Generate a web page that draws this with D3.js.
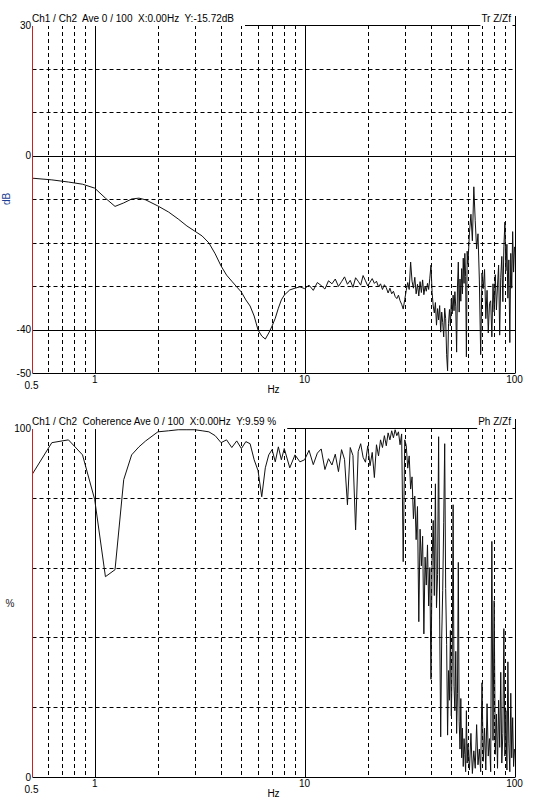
<!DOCTYPE html>
<html>
<head>
<meta charset="utf-8">
<script src="https://cdn.jsdelivr.net/npm/d3@7"></script>
<style>
  body { margin: 0; background: #fff; }
  svg { display: block; }
  text { font-family: "Liberation Sans", Arial, sans-serif; font-size: 10px; }
</style>
</head>
<body>
<div id="chart"></div>
<script>
// frequency bins (Hz), split into three bands
var freqLow = [0.5,0.625,0.75,0.875,1,1.125,1.25,1.375,1.5,1.625,1.75,2,2.25,2.5,2.75,3,3.25,3.5,3.75,4,
  4.25,4.5,4.75,5,5.25,5.5,5.75,6,6.25,6.5,6.75,7,7.25,7.5,7.75,8,8.5,9,9.5];
var freqMid = [10,10.5,11,11.5,12,12.5,13,13.5,14,14.5,15,15.5,16,16.5,17,17.5,18,18.5,19,19.5,20,
  20.5,21,21.5,22,22.5,23,23.5,24,24.5,25,25.5,26,26.5,27,27.5,28,28.5,29,29.5,30];
var freqHigh = [30.5,31,31.5,32,32.5,33,33.5,34,34.5,35,35.5,36,36.5,37,37.5,38,38.5,39,39.5,40,
  40.5,41,41.5,42,42.5,43,43.5,44,44.5,45,45.5,46,46.5,47,47.5,48,48.5,49,49.5,50,
  50.5,51,51.5,52,52.5,53,53.5,54,54.5,55,55.5,56,56.5,57,57.5,58,58.5,59,59.5,60,
  61,62,63,64,65,66,67,68,69,70,71,72,73,74,75,76,77,78,79,80,
  81,82,83,84,85,86,87,88,89,90,91,92,93,94,95,96,97,98,99,100];

// transfer function Tr Z/Zf (dB)
var trLow = [-5.2,-5.6,-6.1,-6.6,-7.5,-9.8,-11.7,-10.9,-10.0,-9.8,-10.2,-11.6,-13.0,-14.6,-16.2,-17.4,-18.5,-20.1,-22.6,-25.4,
  -27.5,-28.9,-30.2,-31.4,-33.2,-34.6,-36.9,-40.1,-41.5,-42.2,-40.8,-39.2,-37.4,-35.1,-33.2,-32.1,-30.9,-30.5,-30.2];
var trMid = [-30.6,-29.8,-31.0,-29.2,-29.9,-30.7,-28.8,-29.5,-28.4,-30.1,-29.0,-27.9,-29.6,-28.7,-30.3,-28.1,-28.9,-29.8,-27.6,-28.8,
  -30.0,-29.1,-28.3,-29.4,-28.9,-30.2,-29.5,-30.8,-29.7,-30.4,-31.6,-30.5,-31.8,-31.2,-32.4,-32.9,-32.1,-33.4,-34.2,-35.3,-33.1];
var trHigh = [-31.0,-29.2,-30.8,-24.5,-28.9,-30.5,-28.0,-31.8,-29.6,-32.3,-29.0,-31.5,-28.6,-32.0,-30.1,-31.2,-29.4,-30.8,-28.2,-25.2,
  -31.5,-34.6,-36.2,-33.8,-39.0,-35.2,-37.8,-34.5,-40.6,-36.0,-38.4,-41.7,-35.1,-37.5,-45.8,-49.5,-38.6,-35.4,-39.2,-33.0,
  -36.4,-32.1,-35.7,-31.3,-34.8,-45.2,-30.2,-24.5,-36.0,-28.4,-33.5,-26.0,-31.8,-23.6,-29.4,-22.5,-27.8,-46.3,-22.0,-25.0,
  -17.8,-13.5,-19.6,-7.2,-15.0,-21.5,-18.0,-28.4,-45.8,-27.0,-30.6,-26.2,-37.5,-31.0,-40.8,-34.0,-33.4,-41.7,-29.5,-36.0,
  -27.4,-35.5,-30.0,-25.2,-41.3,-28.0,-23.2,-33.6,-21.0,-15.3,-26.5,-20.4,-32.8,-24.0,-43.0,-22.5,-30.5,-17.5,-26.8,-21.0];

// coherence Ph Z/Zf (%)
var cohLow = [86.4,95.8,96.6,92.3,79.5,57.4,59.4,85.2,92.3,94.6,96.3,98.9,99.2,99.5,99.5,99.5,99.2,98.9,97.8,95.8,
  96.6,94.4,96.3,94.1,96.1,95.5,90.9,87.8,80.3,88.6,92.3,93.8,90.3,94.6,90.9,94.1,88.6,92.3,90.3];
var cohMid = [90.9,93.6,89.5,92.8,94.0,88.1,91.2,89.4,92.5,87.5,93.8,91.0,78.0,94.4,92.1,70.8,93.2,95.5,91.6,90.2,
  94.9,89.2,93.0,85.8,95.2,92.0,96.6,94.4,97.8,94.9,98.6,96.6,99.2,97.2,99.5,97.8,98.9,95.2,98.3,61.7,96.6];
var cohHigh = [95.0,88.5,92.0,82.5,86.0,74.0,80.5,68.0,77.5,44.5,71.0,60.5,69.0,41.0,63.0,55.0,66.5,49.0,60.0,28.0,
  62.0,73.5,52.0,84.0,48.5,58.0,97.5,45.0,11.5,40.0,53.5,73.0,95.5,54.0,38.0,12.0,30.5,22.0,42.0,17.5,
  33.0,78.0,26.0,19.0,36.0,12.5,24.0,61.5,16.0,8.0,22.5,5.5,14.0,3.0,11.0,6.5,1.5,19.0,4.0,9.5,
  2.0,12.5,1.0,7.5,2.5,15.0,3.5,8.0,1.5,27.0,4.5,14.0,2.0,21.0,6.0,11.0,1.5,67.5,10.5,50.5,
  6.5,18.0,2.5,22.0,8.5,30.0,4.0,12.5,42.5,6.0,19.0,2.0,33.0,9.5,1.5,24.0,5.5,17.0,3.0,8.0];

// grid / tick values
var hzMinor = [0.6,0.7,0.8,0.9,2,3,4,5,6,7,8,9,20,30,40,50,60,70,80,90];
var hzMajor = [1,10,100];
var hzLabels = ["0.5","1","10","100"];

var dbGridDashed = [20,10,-10,-20,-30];
var dbGridSolid = [0,-40];
var dbLabels = [30,0,-40,-50];
var pctGridDashed = [80,60,40,20];
var pctLabels = [100,0];

var W = 538, H = 802;
var svg = d3.select("#chart").append("svg").attr("width", W).attr("height", H);

var x = d3.scaleLog().domain([0.5, 100]).range([31.5, 514.5]);
var px = function (v) { return Math.round(x(v)) + 0.5; };

var allFreq = freqLow.concat(freqMid, freqHigh);

function drawPanel(p) {
  var y = d3.scaleLinear().domain(p.domain).range([p.bottom, p.top]);
  var py = function (v) { return Math.round(y(v)) + 0.5; };
  var left = px(0.5), right = px(100);
  var g = svg.append("g");

  // dashed verticals
  g.append("g").selectAll("line").data(hzMinor).enter().append("line")
    .attr("x1", px).attr("x2", px)
    .attr("y1", p.top).attr("y2", p.bottom)
    .attr("stroke", "#000").attr("stroke-width", 1)
    .attr("stroke-dasharray", "4,3");
  // dashed horizontals
  g.append("g").selectAll("line").data(p.dashed).enter().append("line")
    .attr("x1", left).attr("x2", right)
    .attr("y1", py).attr("y2", py)
    .attr("stroke", "#000").attr("stroke-width", 1)
    .attr("stroke-dasharray", "4,3");
  // solid verticals at decades
  g.append("g").selectAll("line").data(hzMajor).enter().append("line")
    .attr("x1", px).attr("x2", px)
    .attr("y1", function (d) { return d === 100 ? p.top - 9 : p.top; })
    .attr("y2", p.bottom)
    .attr("stroke", "#000").attr("stroke-width", 1);
  // solid horizontals (labelled values + frame)
  g.append("g").selectAll("line").data(p.solid.concat(p.domain)).enter().append("line")
    .attr("x1", left).attr("x2", right)
    .attr("y1", py).attr("y2", py)
    .attr("stroke", "#000").attr("stroke-width", 1);

  // trace
  var clipId = "clip" + p.name;
  svg.append("clipPath").attr("id", clipId).append("rect")
    .attr("x", left).attr("y", p.top - 1).attr("width", right - left).attr("height", p.bottom - p.top + 2);
  var line = d3.line()
    .x(function (d) { return x(d[0]); })
    .y(function (d) { return y(d[1]); });
  g.append("path")
    .datum(d3.zip(allFreq, p.values))
    .attr("d", line)
    .attr("fill", "none")
    .attr("stroke", "#111")
    .attr("stroke-width", 1)
    .attr("stroke-linejoin", "round")
    .attr("clip-path", "url(#" + clipId + ")");

  // header text with white background covering the frame
  var title = g.append("text")
    .attr("x", 32).attr("y", p.top - 3)
    .attr("xml:space", "preserve")
    .style("white-space", "pre")
    .text(p.title);
  var tw = title.node().getComputedTextLength();
  g.insert("rect", "text")
    .attr("x", left - 0.5).attr("y", p.top - 14)
    .attr("width", tw + 11).attr("height", 15)
    .attr("fill", "#fff");
  var tag = g.append("text")
    .attr("x", 511).attr("y", p.top - 3)
    .attr("text-anchor", "end")
    .text(p.tag);
  var gw = tag.node().getComputedTextLength();
  g.insert("rect", "text")
    .attr("x", 511 - gw - 1).attr("y", p.top - 14)
    .attr("width", gw + 2.5).attr("height", 15)
    .attr("fill", "#fff");

  // red left axis
  g.append("line")
    .attr("x1", left).attr("x2", left)
    .attr("y1", p.top + 1).attr("y2", p.bottom)
    .attr("stroke", "#cc1f1f").attr("stroke-width", 1);

  // y tick labels
  g.append("g").selectAll("text").data(p.labels).enter().append("text")
    .attr("x", 31).attr("y", function (d) { return y(d) + 3.5; })
    .attr("text-anchor", "end")
    .text(function (d) { return d; });

  // x tick labels
  g.append("g").selectAll("text").data(hzLabels).enter().append("text")
    .attr("x", function (d) { return x(+d); })
    .attr("y", function (d) { return d === "0.5" ? p.bottom + 15.5 : p.bottom + 9.5; })
    .attr("text-anchor", "middle")
    .text(function (d) { return d; });

  g.append("text")
    .attr("x", 273.5).attr("y", p.bottom + 19.5)
    .attr("text-anchor", "middle")
    .text("Hz");

  if (p.rotateLabel) {
    g.append("text")
      .attr("transform", "translate(10," + p.labelY + ") rotate(-90)")
      .attr("text-anchor", "middle")
      .attr("fill", "#1c3f94")
      .text(p.yLabel);
  } else {
    g.append("text")
      .attr("x", 10).attr("y", p.labelY + 3.5)
      .attr("text-anchor", "middle")
      .attr("fill", "#222")
      .text(p.yLabel);
  }
}

drawPanel({
  name: "tr", top: 25, bottom: 373, domain: [-50, 30],
  dashed: dbGridDashed, solid: dbGridSolid, labels: dbLabels,
  values: trLow.concat(trMid, trHigh),
  title: "Ch1 / Ch2  Ave 0 / 100  X:0.00Hz  Y:-15.72dB",
  tag: "Tr Z/Zf", yLabel: "dB", rotateLabel: true, labelY: 199
});

drawPanel({
  name: "coh", top: 428, bottom: 777, domain: [0, 100],
  dashed: pctGridDashed, solid: [], labels: pctLabels,
  values: cohLow.concat(cohMid, cohHigh),
  title: "Ch1 / Ch2  Coherence Ave 0 / 100  X:0.00Hz  Y:9.59 %",
  tag: "Ph Z/Zf", yLabel: "%", rotateLabel: false, labelY: 603
});
</script>
</body>
</html>
